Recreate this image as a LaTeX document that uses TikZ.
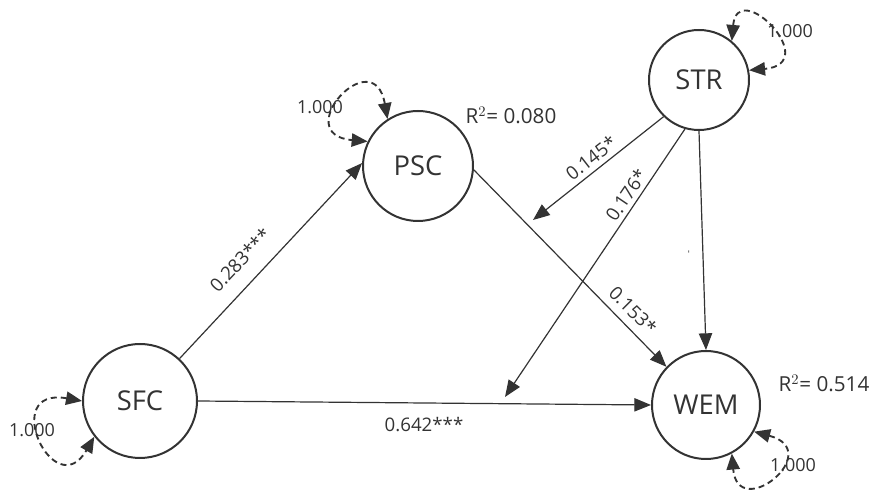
\documentclass[tikz,border=0pt]{standalone}
\usepackage{fontspec}
\setmainfont{Open Sans}
\usetikzlibrary{arrows.meta}
\definecolor{ink}{HTML}{333333}
\begin{document}
\begin{tikzpicture}[x=0.75pt,y=0.75pt,
  lv/.style={circle,draw=ink,line width=1.5pt,inner sep=0pt,text=ink,font=\fontsize{20.5}{22}\selectfont},
  path/.style={draw=ink,line width=0.9pt,-{Triangle[length=12.5pt,width=10pt]}},
  loopp/.style={draw=ink,line width=1.4pt,dash pattern=on 4.5pt off 3pt,{Triangle[length=12pt,width=10pt]}-{Triangle[length=12pt,width=10pt]}},
  lab/.style={text=ink,font=\fontsize{14}{16}\selectfont,inner sep=1pt},
  rsq/.style={text=ink,font=\fontsize{15.5}{17}\selectfont,inner sep=1pt},
  one/.style={text=ink,font=\fontsize{13.5}{15}\selectfont,inner sep=1pt}]
\useasboundingbox (0,0) rectangle (875,496);
% nodes (x, 496 - y)
\node[lv,minimum size=85.5pt] (SFC) at (140,95) {SFC};
\node[lv,minimum size=82.5pt] (PSC) at (418,330) {PSC};
\node[lv,minimum size=75pt]   (STR) at (699,416) {STR};
\node[lv,minimum size=81pt]   (WEM) at (706,91) {WEM};
\coordinate (c1) at (533,276);
\coordinate (c2) at (505,99);
% paths
\draw[path] (SFC.47) -- (PSC.177);
\draw[path] (SFC.east) -- (WEM.west);
\draw[path] (PSC.-4) -- (WEM.136);
\draw[path] (STR.226) -- (c1);
\draw[path] (STR.254) -- (c2);
\draw[path] (STR.south) -- (WEM.north);
% self loops
\draw[loopp] (PSC.123) .. controls +(100:80) and +(175:80) .. (PSC.154);
\draw[loopp] (SFC.180) .. controls +(170:85) and +(240:80) .. (SFC.218);
\draw[loopp] (STR.50) .. controls +(85:65) and +(5:75) .. (STR.11);
\draw[loopp] (WEM.-29) .. controls +(-15:75) and +(-85:70) .. (WEM.-62);
% labels
\node[lab,rotate=46.5] (l1) at (240,236) {0.283***};
\node[lab,rotate=38] (l2) at (591,338) {0.145*};
\node[lab,rotate=56] (l3) at (626,301) {0.176*};
\node[lab,rotate=-45] (l4) at (633,186) {0.153*};
\node[lab] (l5) at (424,71) {0.642***};
\node[lab,rotate=90,font=\fontsize{7}{8}\selectfont] (l6) at (690,244) {-};
\node[rsq] (r1) at (511,381) {R$^{2}$= 0.080};
\node[rsq] (r2) at (824,113) {R$^{2}$= 0.514};
\node[one] (o1) at (320,389) {1.000};
\node[one] (o2) at (32,66) {1.000};
\node[one] (o3) at (790,465) {1.000};
\node[one] (o4) at (793,31) {1.000};
\end{tikzpicture}
\end{document}
